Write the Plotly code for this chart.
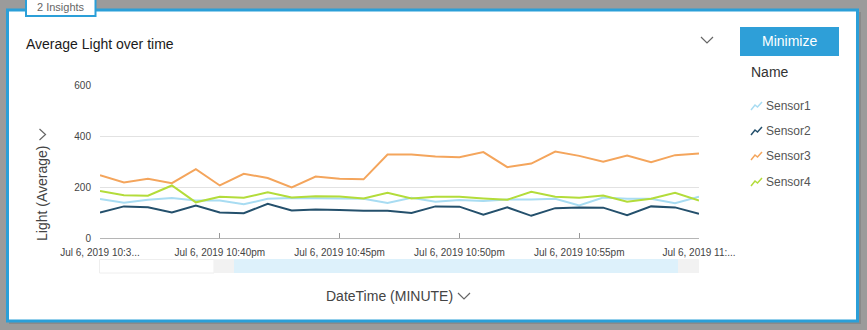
import plotly.graph_objects as go
import pandas as pd

# ---- data ----
times = list(pd.date_range("2019-07-06 22:35", "2019-07-06 23:00", freq="1min"))
sensor1 = [153, 138, 150, 157, 147, 147, 132, 154, 157, 156, 154, 154, 137, 158, 142, 149, 145, 151, 151, 154, 128, 159, 154, 154, 136, 162]
sensor2 = [100, 124, 121, 100, 127, 100, 97, 134, 108, 112, 110, 107, 107, 98, 124, 123, 91, 120, 87, 117, 120, 119, 89, 124, 120, 95]
sensor3 = [246, 218, 232, 215, 270, 206, 252, 235, 198, 241, 232, 230, 327, 327, 320, 317, 337, 278, 292, 339, 322, 299, 323, 297, 325, 331]
sensor4 = [184, 168, 166, 206, 140, 162, 158, 179, 159, 164, 163, 155, 177, 155, 162, 162, 155, 150, 181, 162, 158, 167, 142, 154, 177, 147]
series_names = ["Sensor1", "Sensor2", "Sensor3", "Sensor4"]
series_values = [sensor1, sensor2, sensor3, sensor4]
colors = ["#a8dcf2", "#24506c", "#f4a55c", "#b3dc3a"]
tick_vals = ["2019-07-06 22:35", "2019-07-06 22:40", "2019-07-06 22:45",
             "2019-07-06 22:50", "2019-07-06 22:55", "2019-07-06 23:00"]
tick_text = ["Jul 6, 2019 10:3...", "Jul 6, 2019 10:40pm", "Jul 6, 2019 10:45pm",
             "Jul 6, 2019 10:50pm", "Jul 6, 2019 10:55pm", "Jul 6, 2019 11:..."]
y_ticks = [0, 200, 400, 600]

W, H = 867, 330
L, R, T, B = 100, 699, 85, 238
FONT = "Liberation Sans, Arial, sans-serif"


def px(x):
    return (x - L) / (R - L)


def py(y):
    return (B - y) / (B - T)


fig = go.Figure()
for name, vals, c in zip(series_names, series_values, colors):
    fig.add_trace(go.Scatter(x=times, y=vals, mode="lines", name=name,
                             line=dict(color=c, width=2), showlegend=False))

shapes = []
# shadow + card
shapes.append(dict(type="rect", xref="paper", yref="paper", layer="below",
                   x0=px(9), x1=px(861), y0=py(12), y1=py(324),
                   fillcolor="#8a8a8a", line=dict(width=0)))
shapes.append(dict(type="rect", xref="paper", yref="paper", layer="below",
                   x0=px(7.5), x1=px(857.5), y0=py(10), y1=py(321),
                   fillcolor="white", line=dict(color="#2b9fd8", width=3)))
# tab
shapes.append(dict(type="rect", xref="paper", yref="paper", layer="below",
                   x0=px(26), x1=px(95.5), y0=py(-3), y1=py(16),
                   fillcolor="white", line=dict(color="#2b9fd8", width=2)))
# minimize button
shapes.append(dict(type="rect", xref="paper", yref="paper", layer="below",
                   x0=px(740), x1=px(839), y0=py(27), y1=py(56),
                   fillcolor="#2e9fd8", line=dict(width=0)))


def path(points):
    return "M " + " L ".join(f"{px(x)},{py(y)}" for x, y in points)


chev = dict(color="#666", width=1.2)
shapes.append(dict(type="path", xref="paper", yref="paper",
                   path=path([(701, 37), (707, 43), (713, 37)]), line=chev))
shapes.append(dict(type="path", xref="paper", yref="paper",
                   path=path([(39.5, 129), (45.5, 134.5), (39.5, 140)]), line=chev))
shapes.append(dict(type="path", xref="paper", yref="paper",
                   path=path([(458, 293), (464, 299), (470, 293)]), line=chev))

# range slider
shapes.append(dict(type="rect", xref="paper", yref="paper",
                   x0=px(99.5), x1=px(214), y0=py(259.5), y1=py(273),
                   fillcolor="white", line=dict(color="#eeeeee", width=1)))
shapes.append(dict(type="rect", xref="paper", yref="paper",
                   x0=px(214), x1=px(234), y0=py(259), y1=py(273),
                   fillcolor="#f2f2f2", line=dict(width=0)))
shapes.append(dict(type="rect", xref="paper", yref="paper",
                   x0=px(234), x1=px(678), y0=py(259), y1=py(273),
                   fillcolor="#ddf1fb", line=dict(width=0)))
shapes.append(dict(type="rect", xref="paper", yref="paper",
                   x0=px(678), x1=px(699), y0=py(259), y1=py(273),
                   fillcolor="#f2f2f2", line=dict(width=0)))

annotations = []


def text(x, y, s, size, color, xanchor="left", angle=0):
    annotations.append(dict(xref="paper", yref="paper", x=px(x), y=py(y), text=s,
                            showarrow=False, xanchor=xanchor, yanchor="middle",
                            textangle=angle,
                            font=dict(family=FONT, size=size, color=color)))


text(60.5, 7, "2 Insights", 11, "#666", "center")
text(24, 44, "Average Light over time", 14, "#1a1a1a")
text(789.5, 41.5, "Minimize", 14, "white", "center")
text(749, 72, "Name", 14, "#333")
text(42, 194, "Light (Average)", 14, "#444", "center", -90)
text(389, 296, "DateTime (MINUTE)", 14, "#444", "center")

leg_y = [106, 131, 156, 182]
for name, c, y in zip(series_names, colors, leg_y):
    shapes.append(dict(type="path", xref="paper", yref="paper",
                       path=path([(751, y + 4), (755, y - 1), (757.5, y + 1), (762, y - 4)]),
                       line=dict(color=c, width=1.5)))
    text(764, y, name, 12, "#555")

fig.update_layout(
    width=W, height=H,
    margin=dict(l=L, r=W - R, t=T, b=H - B, pad=0),
    paper_bgcolor="#9b9b9b", plot_bgcolor="white",
    font=dict(family=FONT, size=10, color="#555"),
    shapes=shapes, annotations=annotations,
    showlegend=False,
    xaxis=dict(type="date", range=[times[0], times[-1]], tickvals=tick_vals,
               ticktext=tick_text, showgrid=False, showline=True,
               linecolor="#b5b5b5", linewidth=1, ticks="inside", ticklen=5,
               tickcolor="#999", tickfont=dict(size=10, color="#444"),
               ticklabelstandoff=5, zeroline=False),
    yaxis=dict(range=[0, 600], tickvals=y_ticks, showgrid=True,
               gridcolor="#e2e2e2", gridwidth=1, zeroline=False,
               showline=False, ticks="", ticklabelstandoff=8,
               tickfont=dict(size=10, color="#444")),
)

fig.write_html("out.html")
